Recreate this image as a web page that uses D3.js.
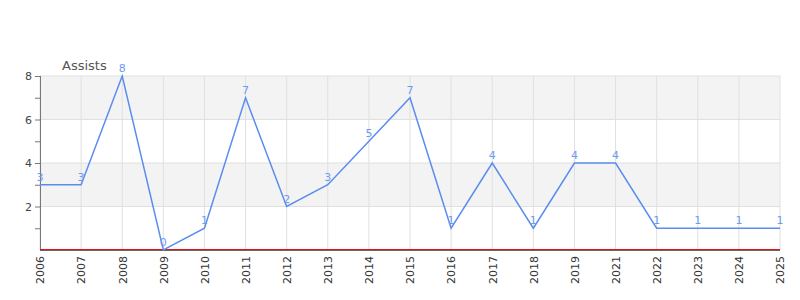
<!DOCTYPE html>
<html>
<head>
<meta charset="utf-8">
<script src="https://cdn.jsdelivr.net/npm/d3@7"></script>
<style>
  body { margin: 0; background: #fff; }
  svg { font-family: "DejaVu Sans", sans-serif; }
</style>
</head>
<body>
<script>
    // chart data
    var years = ["2006","2007","2008","2009","2010","2011","2012","2013","2014","2015",
                 "2016","2017","2018","2019","2021","2022","2023","2024","2025"];
    var assists = [3, 3, 8, 0, 1, 7, 2, 3, 5, 7, 1, 4, 1, 4, 4, 1, 1, 1, 1];
    var yTicks = [2, 4, 6, 8];
    var seriesName = "Assists";

    var width = 800, height = 300;
    var plotLeft = 40, plotRight = 780, plotTop = 76, plotBottom = 250;

    var x = d3.scalePoint().domain(years).range([plotLeft, plotRight]);
    var y = d3.scaleLinear().domain([0, 8]).range([plotBottom, plotTop]);

    var svg = d3.select("body").append("svg")
        .attr("width", width)
        .attr("height", height);

    // alternating bands
    var bands = [[0, 2, "#ffffff"], [2, 4, "#f3f3f3"], [4, 6, "#ffffff"], [6, 8, "#f3f3f3"]];
    svg.selectAll(".band").data(bands).enter().append("rect")
        .attr("x", plotLeft)
        .attr("width", plotRight - plotLeft)
        .attr("y", function(d) { return y(d[1]); })
        .attr("height", function(d) { return y(d[0]) - y(d[1]); })
        .attr("fill", function(d) { return d[2]; });

    // horizontal grid
    svg.selectAll(".hgrid").data(yTicks).enter().append("line")
        .attr("x1", plotLeft).attr("x2", plotRight)
        .attr("y1", function(d) { return y(d); })
        .attr("y2", function(d) { return y(d); })
        .attr("stroke", "#e0e0e0");

    // vertical grid
    svg.selectAll(".vgrid").data(years).enter().append("line")
        .attr("x1", function(d) { return x(d); })
        .attr("x2", function(d) { return x(d); })
        .attr("y1", plotTop).attr("y2", plotBottom)
        .attr("stroke", "#e0e0e0");

    // y axis
    var yAxis = svg.append("g")
        .attr("transform", "translate(" + plotLeft + ",0)")
        .call(d3.axisLeft(y).tickValues(d3.range(1, 9)).tickSize(5)
            .tickFormat(function(d) { return d % 2 === 0 ? d : ""; }));
    yAxis.select(".domain").attr("stroke", "#777").attr("d", "M0.5," + plotTop + "V" + plotBottom);
    yAxis.selectAll(".tick line").attr("stroke", "#777");
    yAxis.selectAll(".tick text").attr("fill", "#444").attr("font-size", 11)
        .attr("font-family", "DejaVu Sans, sans-serif");

    // x axis
    var xAxis = svg.append("g")
        .attr("transform", "translate(0," + plotBottom + ")")
        .call(d3.axisBottom(x).tickSize(0).tickPadding(0));
    xAxis.select(".domain").remove();
    xAxis.selectAll(".tick text")
        .attr("fill", "#333").attr("font-size", 11)
        .attr("font-family", "DejaVu Sans, sans-serif")
        .attr("transform", "rotate(-90)")
        .attr("text-anchor", "end")
        .attr("x", -6).attr("y", 0).attr("dy", "0.35em");

    // baseline: red zero line over a grey axis line
    svg.append("line")
        .attr("x1", plotLeft).attr("x2", plotRight)
        .attr("y1", y(0) - 0.5).attr("y2", y(0) - 0.5)
        .attr("stroke", "#ee1111").attr("stroke-width", 1);
    svg.append("line")
        .attr("x1", plotLeft).attr("x2", plotRight)
        .attr("y1", y(0) + 0.5).attr("y2", y(0) + 0.5)
        .attr("stroke", "#666").attr("stroke-width", 1);

    // series line
    var line = d3.line()
        .x(function(d, i) { return x(years[i]); })
        .y(function(d) { return y(d); });

    svg.append("path")
        .attr("d", line(assists))
        .attr("fill", "none")
        .attr("stroke", "#5b8def")
        .attr("stroke-width", 1.5);

    // value labels
    svg.selectAll(".vlabel").data(assists).enter().append("text")
        .attr("x", function(d, i) { return x(years[i]); })
        .attr("y", function(d) { return y(d) - 4; })
        .attr("text-anchor", "middle")
        .attr("font-size", 11)
        .attr("fill", "#6f9bef")
        .text(function(d) { return d; });

    // series title
    svg.append("text")
        .attr("x", 62).attr("y", 70)
        .attr("font-size", 13)
        .attr("fill", "#555")
        .text(seriesName);
</script>
</body>
</html>
